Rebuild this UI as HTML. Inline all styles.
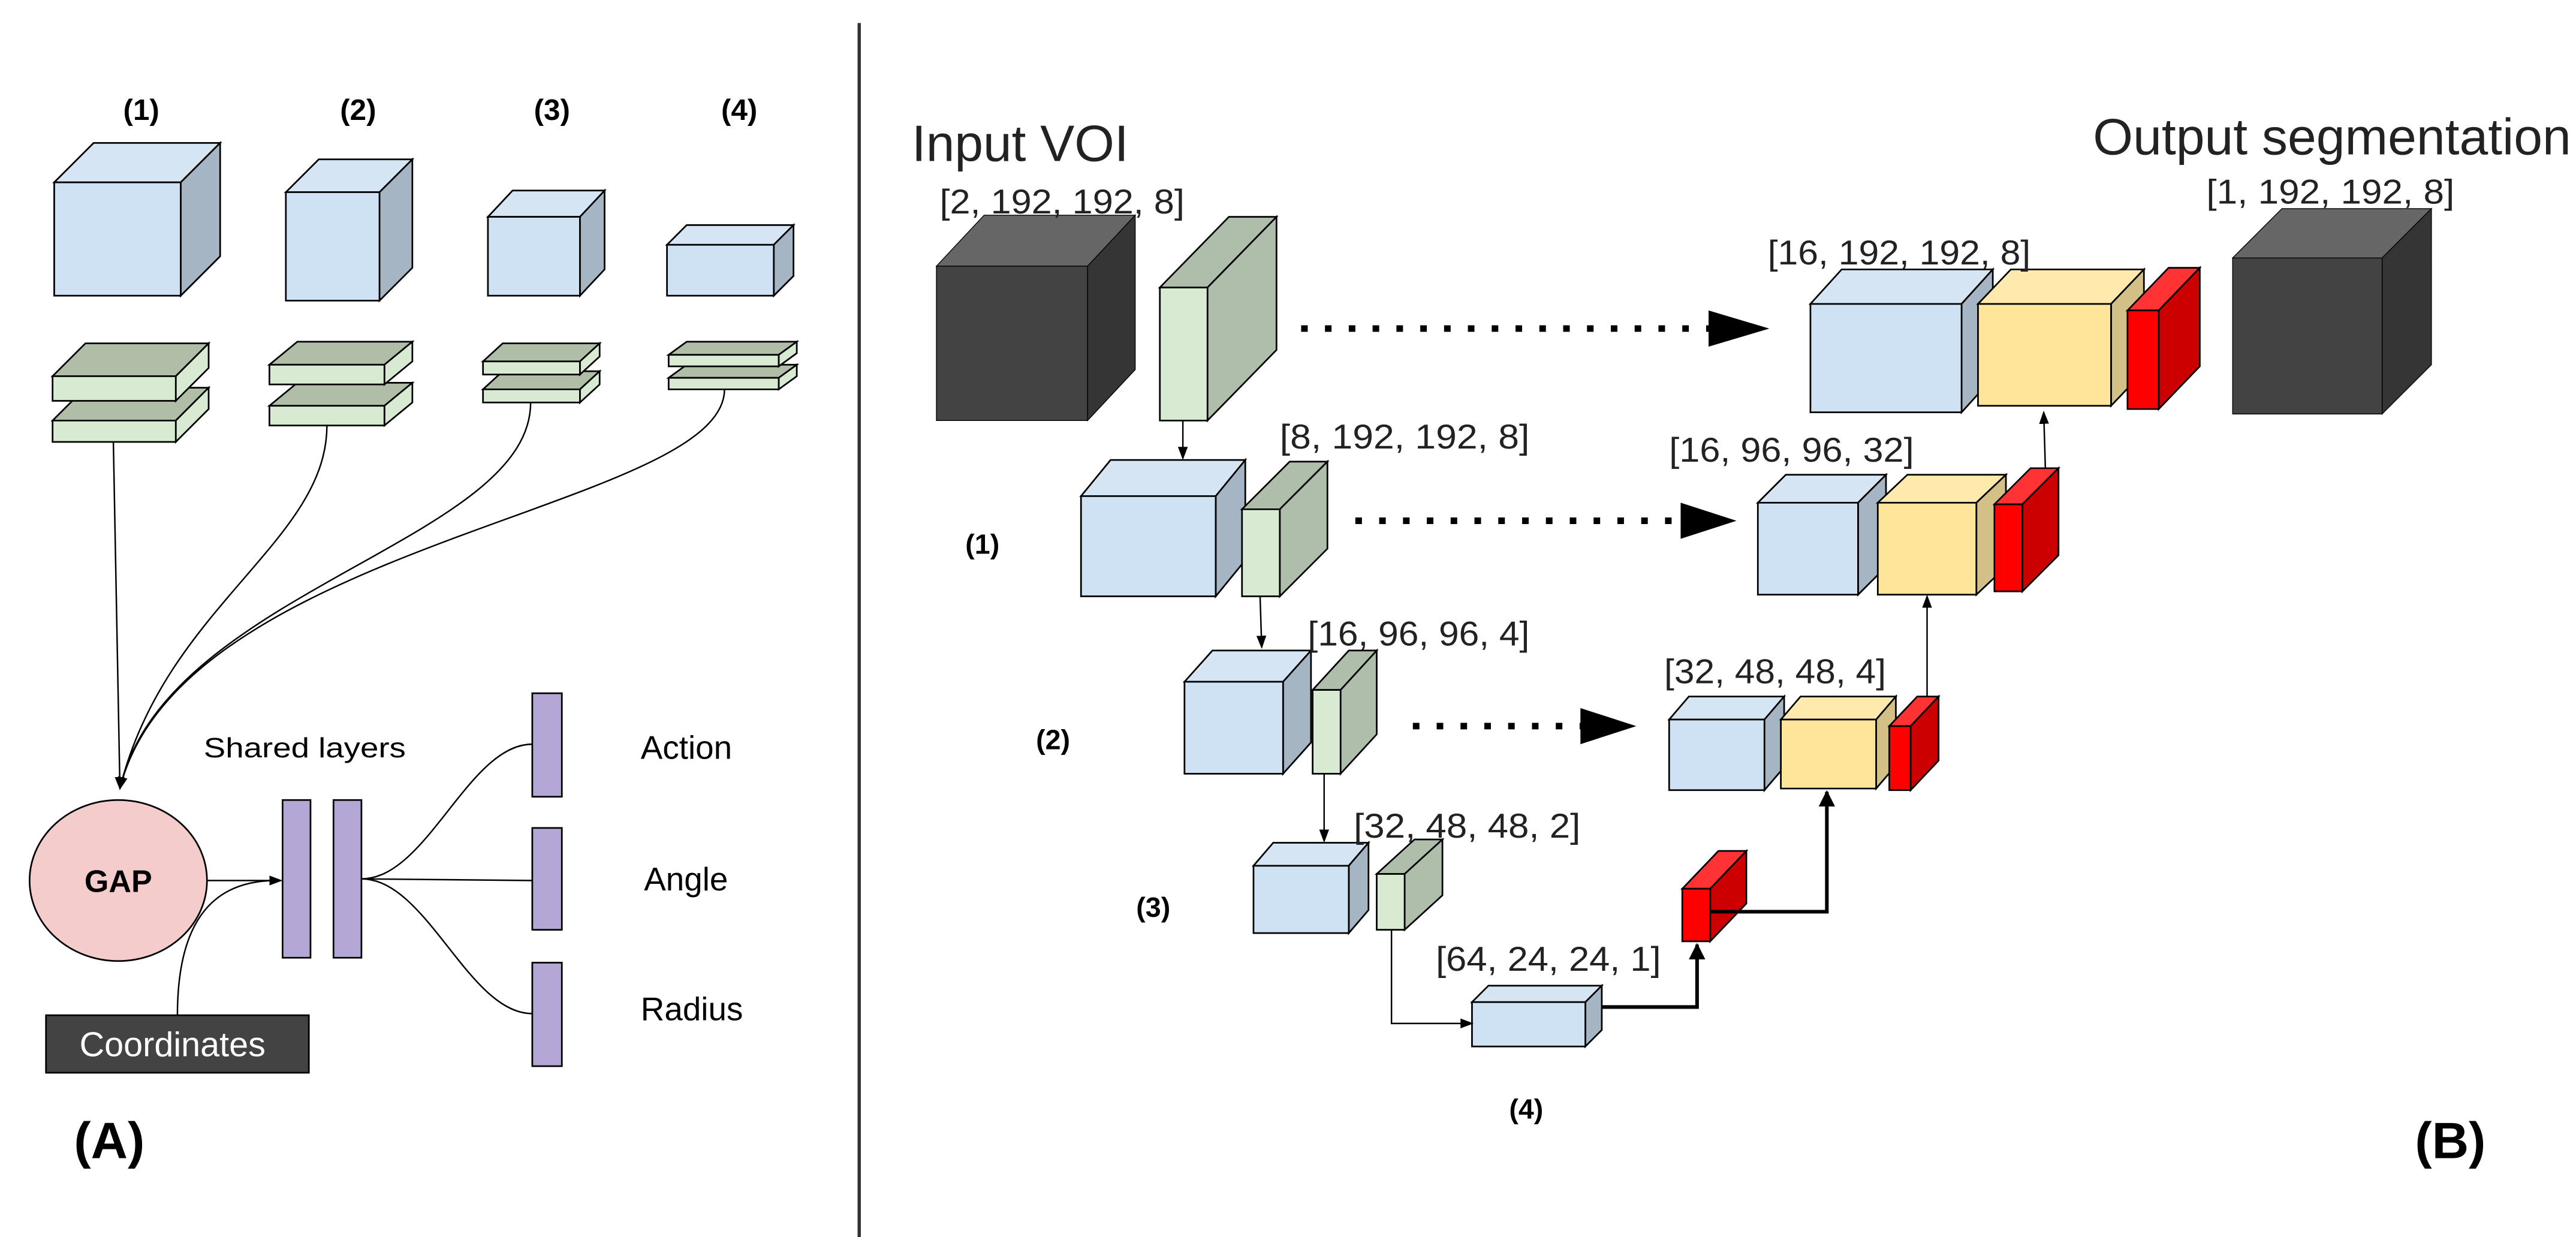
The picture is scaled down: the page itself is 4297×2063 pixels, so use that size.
<!DOCTYPE html>
<html><head><meta charset="utf-8"><style>
html,body{margin:0;padding:0;background:#fff;}
svg{display:block;}
.a{font-family:"Liberation Sans",sans-serif;fill:#000;}
.n{font-family:"Liberation Sans Narrow","Liberation Sans",sans-serif;fill:#222;}
</style></head><body>
<svg id="s" width="4297" height="2063" viewBox="0 0 1568 753" preserveAspectRatio="none" xmlns="http://www.w3.org/2000/svg">
<defs>
<marker id="ar" markerWidth="8" markerHeight="8" refX="7" refY="4" orient="auto" markerUnits="userSpaceOnUse"><path d="M0,1 L8,4 L0,7 z" fill="#000"/></marker>
<marker id="ar2" markerWidth="10" markerHeight="10" refX="9" refY="5" orient="auto" markerUnits="userSpaceOnUse"><path d="M0,0 L10,5 L0,10 z" fill="#000"/></marker>
</defs>
<rect width="1568" height="753" fill="#fff"/>
<g id="shapes"></g>
<line x1="523" y1="14" x2="523" y2="753" stroke="#333" stroke-width="2"/>

<g fill="none" stroke="#000" stroke-width="0.9">
<path d="M69,269 L73,480" marker-end="url(#ar)"/>
<path d="M199,259 C199,330 100,370 73,480" marker-end="url(#ar)"/>
<path d="M323,245 C323,330 100,360 73,480"/>
<path d="M441,237 C441,310 110,330 73,480"/>
<path d="M126,536 L171,536" marker-end="url(#ar)"/>
<path d="M108,618 C108,560 130,536 168,536"/>
<path d="M220,535 C260,535 285,453 324,453"/>
<path d="M220,535 L324,536"/>
<path d="M220,535 C260,535 285,617 324,617"/>
</g>
<ellipse cx="72" cy="536" rx="54" ry="49" fill="#f4cccc" stroke="#000" stroke-width="1"/>
<text x="72" y="543" class="a" font-size="19" font-weight="bold" text-anchor="middle">GAP</text>
<rect x="28" y="618" width="160" height="35" fill="#434343" stroke="#000" stroke-width="1"/>
<text x="105" y="643" class="a" font-size="21" style="fill:#fff" text-anchor="middle">Coordinates</text>
<rect x="172" y="487" width="17" height="96" fill="#b4a7d6" stroke="#000"/>
<rect x="203" y="487" width="17" height="96" fill="#b4a7d6" stroke="#000"/>
<rect x="324" y="422" width="18" height="63" fill="#b4a7d6" stroke="#000"/>
<rect x="324" y="504" width="18" height="62" fill="#b4a7d6" stroke="#000"/>
<rect x="324" y="586" width="18" height="63" fill="#b4a7d6" stroke="#000"/>
<text x="124" y="461" class="a" font-size="17" textLength="123" lengthAdjust="spacingAndGlyphs">Shared layers</text>
<text x="390" y="462" class="a" font-size="20">Action</text>
<text x="392" y="542" class="a" font-size="20">Angle</text>
<text x="390" y="621" class="a" font-size="20">Radius</text>
<g class="a" font-size="18" font-weight="bold" text-anchor="middle">
<text x="86" y="73">(1)</text>
<text x="218" y="73">(2)</text>
<text x="336" y="73">(3)</text>
<text x="450" y="73">(4)</text>
</g>
<text x="45" y="705" class="a" font-size="31" font-weight="bold">(A)</text>

<g fill="none" stroke="#000">
<line x1="720" y1="256" x2="720" y2="279" stroke-width="0.9" marker-end="url(#ar)"/>
<line x1="767" y1="363" x2="768" y2="394" stroke-width="0.9" marker-end="url(#ar)"/>
<line x1="806" y1="471" x2="806" y2="512" stroke-width="0.9" marker-end="url(#ar)"/>
<path d="M847,566 L847,623 L896,623" stroke-width="0.9" marker-end="url(#ar)"/>
<path d="M975,613 L1033,613 L1033,575" stroke-width="2.2" marker-end="url(#ar2)"/>
<path d="M1041,555 L1112,555 L1112,482" stroke-width="2.2" marker-end="url(#ar2)"/>
<line x1="1173" y1="424" x2="1173" y2="363" stroke-width="0.9" marker-end="url(#ar)"/>
<line x1="1245" y1="285" x2="1244" y2="251" stroke-width="0.9" marker-end="url(#ar)"/>
<line x1="792" y1="200" x2="1040" y2="200" stroke-width="4" stroke-dasharray="4,10.5"/>
<line x1="825" y1="317" x2="1023" y2="317" stroke-width="4" stroke-dasharray="4,10.5"/>
<line x1="860" y1="442" x2="962" y2="442" stroke-width="4" stroke-dasharray="4,10.5"/>
</g>
<path d="M1040,189 L1077,200 L1040,211 z" fill="#000"/>
<path d="M1023,306 L1057,317 L1023,328 z" fill="#000"/>
<path d="M962,431 L996,442 L962,453 z" fill="#000"/>

<text x="555" y="98" class="n" font-size="31" textLength="132" lengthAdjust="spacingAndGlyphs">Input VOI</text>
<text x="1274" y="94" class="n" font-size="31" textLength="291" lengthAdjust="spacingAndGlyphs">Output segmentation</text>
<g class="n" font-size="21">
<text x="572" y="130" textLength="149" lengthAdjust="spacingAndGlyphs">[2, 192, 192, 8]</text>
<text x="1343" y="124" textLength="151" lengthAdjust="spacingAndGlyphs">[1, 192, 192, 8]</text>
<text x="1076" y="161" textLength="160" lengthAdjust="spacingAndGlyphs">[16, 192, 192, 8]</text>
<text x="779" y="273" textLength="152" lengthAdjust="spacingAndGlyphs">[8, 192, 192, 8]</text>
<text x="1016" y="281" textLength="149" lengthAdjust="spacingAndGlyphs">[16, 96, 96, 32]</text>
<text x="796" y="393" textLength="135" lengthAdjust="spacingAndGlyphs">[16, 96, 96, 4]</text>
<text x="1013" y="416" textLength="135" lengthAdjust="spacingAndGlyphs">[32, 48, 48, 4]</text>
<text x="824" y="510" textLength="138" lengthAdjust="spacingAndGlyphs">[32, 48, 48, 2]</text>
<text x="874" y="591" textLength="137" lengthAdjust="spacingAndGlyphs">[64, 24, 24, 1]</text>
</g>
<g class="a" font-size="17" font-weight="bold" text-anchor="middle">
<text x="598" y="337">(1)</text>
<text x="641" y="456">(2)</text>
<text x="702" y="558">(3)</text>
<text x="929" y="681">(4)</text>
</g>
<text x="1470" y="705" class="a" font-size="31" font-weight="bold">(B)</text>

<script>
(function(){
var g=document.getElementById('shapes');var NS='http://www.w3.org/2000/svg';
function poly(pts,fill,sw){var p=document.createElementNS(NS,'polygon');p.setAttribute('points',pts.map(function(q){return q[0]+','+q[1]}).join(' '));p.setAttribute('fill',fill);p.setAttribute('stroke','#000');p.setAttribute('stroke-width',sw||1);g.appendChild(p);}
function cube(x,y,w,h,dx,dy,f,t,s,sw){
 poly([[x,y],[x+dx,y-dy],[x+w+dx,y-dy],[x+w,y]],t,sw);
 poly([[x+w,y],[x+w+dx,y-dy],[x+w+dx,y+h-dy],[x+w,y+h]],s,sw);
 poly([[x,y],[x+w,y],[x+w,y+h],[x,y+h]],f,sw);
}
var B=['#cfe2f3','#d6e5f4','#a5b5c4'],G=['#d9ead3','#afbdab','#afbdab'],GA=['#d9ead3','#b0bea8','#d9ead3'],Y=['#ffe599','#ffe9ad','#d3c087'],R=['#ff0000','#ff3333','#cc0000'],D=['#434343','#666666','#353535'];
function c(x,y,w,h,dx,dy,C,sw){cube(x,y,w,h,dx,dy,C[0],C[1],C[2],sw);}
c(33,111,77,69,24,24,B);c(174,117,57,66,20,20,B);c(297,132,56,48,15,16,B);c(406,149,65,31,12,12,B);
c(32,256,75,13,20,20,GA);c(32,229,75,15,20,20,GA);
c(164,247,70,12,17,14,GA);c(164,222,70,12,17,14,GA);
c(294,237,59,8,12,11,GA);c(294,220,59,8,12,11,GA);
c(407,230,67,7,11,8,GA);c(407,216,67,7,11,8,GA);
c(570,162,92,94,29,31,D,0.5);
c(706,175,29,81,42,43,G);
c(658,302,82,61,18,22,B);c(756,310,23,53,29,29,G);
c(721,415,60,56,17,19,B);c(799,420,17,51,22,24,G);
c(763,527,58,41,12,14,B);c(838,532,17,34,23,21,G);
c(896,610,69,27,10,10,B);
c(1024,541,17,32,22,23,R);
c(1016,438,58,43,12,14,B);c(1084,438,58,42,12,14,Y);c(1150,442,13,39,17,18,R);
c(1070,306,61,56,17,17,B);c(1143,306,60,56,18,17,Y);c(1214,307,17,53,22,22,R);
c(1102,185,92,66,19,21,B);c(1204,185,81,62,20,21,Y);c(1295,189,19,60,25,26,R);
c(1359,157,91,95,30,30,D,0.5);
})();
</script>
</svg>
</body></html>
